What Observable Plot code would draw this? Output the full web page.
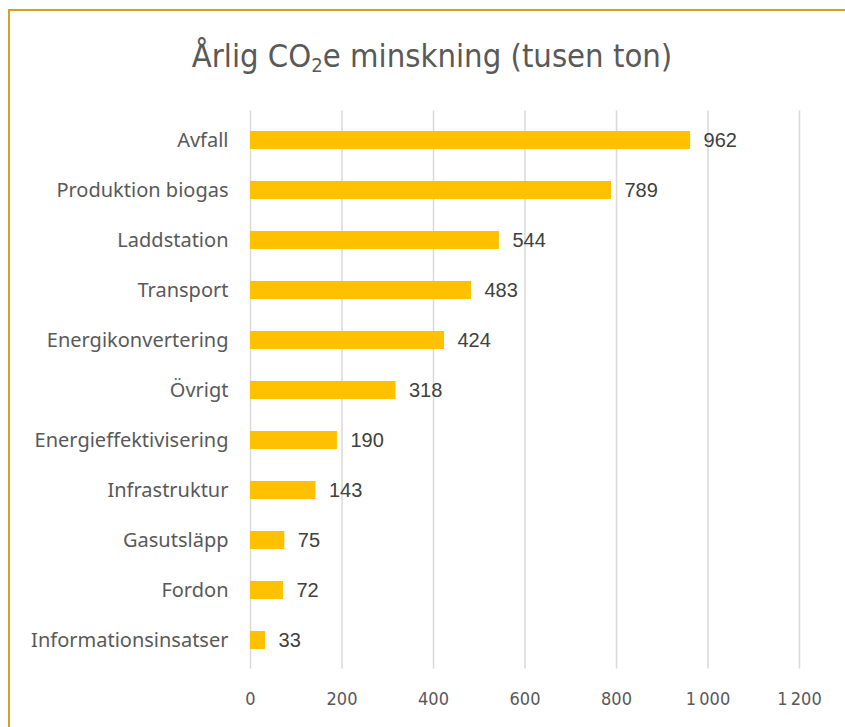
<!DOCTYPE html>
<html>
<head>
<meta charset="utf-8">
<script src="https://cdn.jsdelivr.net/npm/d3@7"></script>
<script src="https://cdn.jsdelivr.net/npm/@observablehq/plot@0.6"></script>
<style>
  html, body { margin: 0; padding: 0; background: #fff; width: 845px; height: 727px; overflow: hidden; }
  #frame { position: absolute; left: 8px; top: 9px; width: 900px; height: 800px; border-top: 2px solid #D5A11E; border-left: 2px solid #D5A11E; box-sizing: border-box; }
  #title { position: absolute; left: 0; top: 37px; width: 864px; text-align: center; font-family: "Liberation Sans Narrow", "DejaVu Sans Condensed", sans-serif; font-size: 32.5px; color: #595959; white-space: nowrap; }
  #title sub { font-size: 0.62em; vertical-align: -0.25em; line-height: 0; }
  #chart { position: absolute; left: 0; top: 0; }
</style>
</head>
<body>
<div id="frame"></div>
<div id="chart"></div>
<div id="title">Årlig CO<sub>2</sub>e minskning (tusen ton)</div>
<script>
const categories = ["Avfall", "Produktion biogas", "Laddstation", "Transport", "Energikonvertering", "Övrigt", "Energieffektivisering", "Infrastruktur", "Gasutsläpp", "Fordon", "Informationsinsatser"];
const values = [962, 789, 544, 483, 424, 318, 190, 143, 75, 72, 33];
const xTicks = [0, 200, 400, 600, 800, 1000, 1200];

const data = categories.map((c, i) => ({cat: c, value: values[i]}));
const fmt = d3.formatLocale({thousands: "\u2009", grouping: [3], decimal: ","}).format(",");

const chart = Plot.plot({
  width: 845,
  height: 727,
  marginLeft: 250,
  marginRight: 46,
  marginTop: 110.6,
  marginBottom: 58.6,
  style: {background: "transparent", overflow: "visible"},
  x: {domain: [0, 1200]},
  y: {domain: categories, paddingInner: 0.645, paddingOuter: 0.3225},
  marks: [
    Plot.gridX(xTicks, {stroke: "#d9d9d9", strokeOpacity: 1, strokeWidth: 1.5}),
    Plot.barX(data, {x: "value", y: "cat", fill: "#FFC000"}),
    Plot.text(data, {x: "value", y: "cat", text: d => String(d.value), dx: 13, textAnchor: "start", fill: "#404040", fontSize: 20, fontFamily: "Liberation Sans, Arial, sans-serif"}),
    Plot.axisX(xTicks, {tickSize: 0, tickPadding: 23, tickFormat: fmt, fill: "#595959", fontSize: 18, fontFamily: "Liberation Sans Narrow, DejaVu Sans Condensed, sans-serif", label: null}),
    Plot.axisY({tickSize: 0, tickPadding: 22, fill: "#595959", fontSize: 20, fontFamily: "Noto Sans, sans-serif", label: null})
  ]
});
document.getElementById("chart").appendChild(chart);
</script>
</body>
</html>
